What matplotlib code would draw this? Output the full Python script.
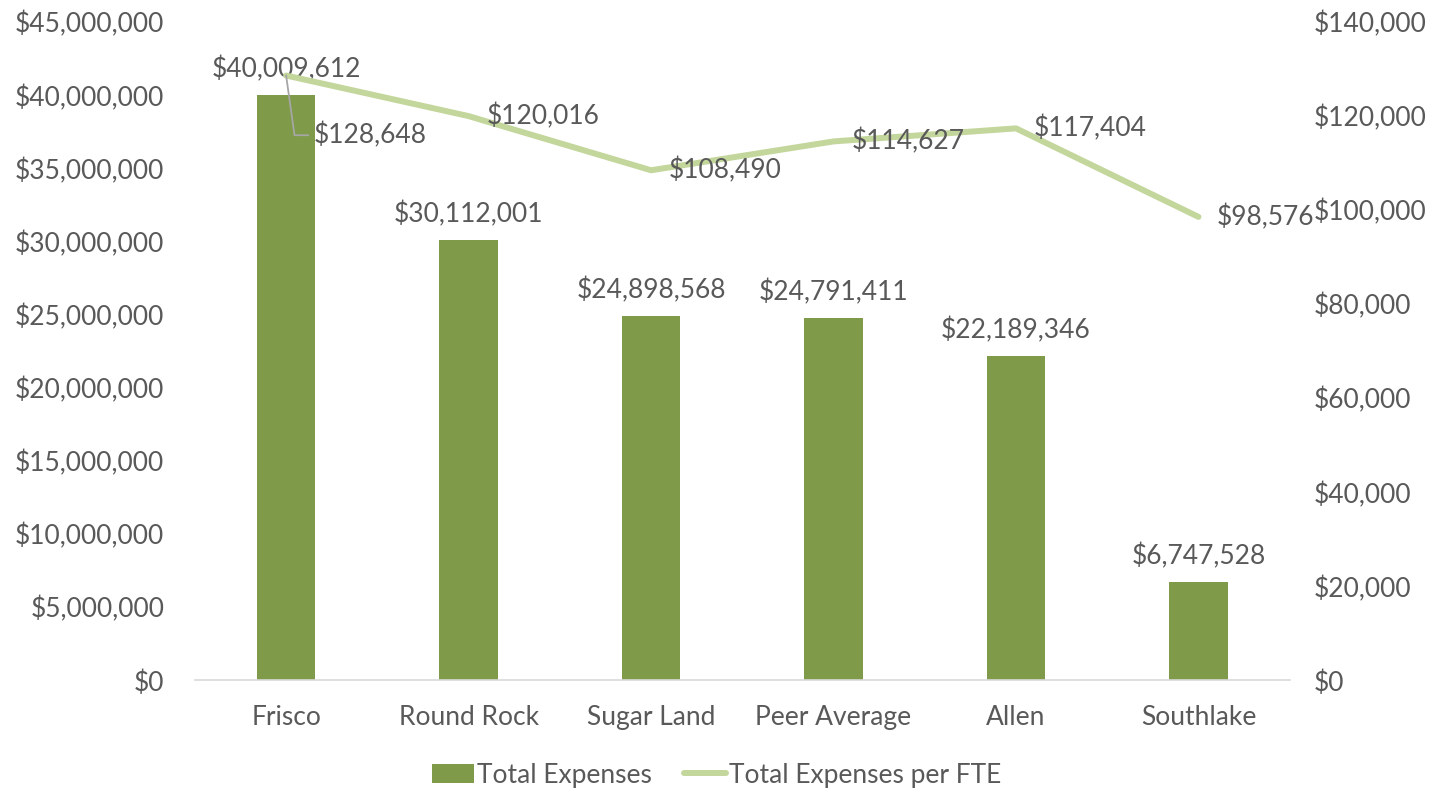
import matplotlib
matplotlib.use("Agg")
import matplotlib.pyplot as plt
from matplotlib.ticker import FuncFormatter
from matplotlib.patches import Patch
from matplotlib.lines import Line2D

CITIES = ["Frisco", "Round Rock", "Sugar Land", "Peer Average", "Allen", "Southlake"]
TOTAL_EXPENSES = [40009612, 30112001, 24898568, 24791411, 22189346, 6747528]
EXPENSES_PER_FTE = [128648, 120016, 108490, 114627, 117404, 98576]

BAR_COLOR = "#7F9A48"
LINE_COLOR = "#C3D69B"
TEXT_COLOR = "#595959"
FS = 19

plt.rcParams['font.family'] = ['Lato', 'DejaVu Sans']
plt.rcParams['font.size'] = FS

fig = plt.figure(figsize=(14.33, 7.91), dpi=100)
ax = fig.add_axes([0.136, 0.140, 0.764, 0.832])
ax2 = ax.twinx()

x = list(range(len(CITIES)))
bars = ax.bar(x, TOTAL_EXPENSES, width=0.32, color=BAR_COLOR, zorder=2)
ax.bar_label(bars, labels=["${:,.0f}".format(v) for v in TOTAL_EXPENSES],
             padding=9, color=TEXT_COLOR, fontsize=FS)

ax2.plot(x, EXPENSES_PER_FTE, color=LINE_COLOR, lw=4.3, solid_capstyle='round', zorder=3)

# line labels, to the right of each point
for i, v in enumerate(EXPENSES_PER_FTE):
    lbl = "${:,.0f}".format(v)
    if i == 0:
        ax2.annotate(lbl, (i, v), xytext=(20, -43), textcoords='offset points',
                     ha='left', va='center', color=TEXT_COLOR, fontsize=FS,
                     arrowprops=dict(arrowstyle='-', color='#A6A6A6', lw=1.3,
                                     shrinkA=2, shrinkB=0,
                                     connectionstyle="angle,angleA=0,angleB=-82,rad=0"))
    else:
        ax2.annotate(lbl, (i, v), xytext=(13, 0), textcoords='offset points',
                     ha='left', va='center', color=TEXT_COLOR, fontsize=FS)

ax.set_xlim(-0.5, len(CITIES) - 0.5)
ax.set_ylim(0, 45000000)
ax.set_yticks(range(0, 45000001, 5000000))
ax2.set_ylim(0, 140000)
ax2.set_yticks(range(0, 140001, 20000))

money = FuncFormatter(lambda v, p: "${:,.0f}".format(v))
ax.yaxis.set_major_formatter(money)
ax2.yaxis.set_major_formatter(money)

ax.set_xticks(x)
ax.set_xticklabels(CITIES)

for a in (ax, ax2):
    for s in a.spines.values():
        s.set_visible(False)
    a.tick_params(length=0, colors=TEXT_COLOR, labelsize=FS)
ax.spines['bottom'].set_visible(True)
ax.spines['bottom'].set_color('#D9D9D9')
ax.spines['bottom'].set_linewidth(1.2)
ax.tick_params(axis='y', pad=22)
ax.tick_params(axis='x', pad=18)
ax2.tick_params(axis='y', pad=17)

handles = [Patch(facecolor=BAR_COLOR, edgecolor='none'),
           Line2D([0], [0], color=LINE_COLOR, lw=4.3, solid_capstyle='round')]
fig.legend(handles, ["Total Expenses", "Total Expenses per FTE"],
           loc='center', bbox_to_anchor=(0.5, 0.02), ncol=2, frameon=False,
           fontsize=FS, labelcolor=TEXT_COLOR, handlelength=1.6,
           handletextpad=0.1, columnspacing=1.2)

fig.savefig("out.png", dpi=100)
